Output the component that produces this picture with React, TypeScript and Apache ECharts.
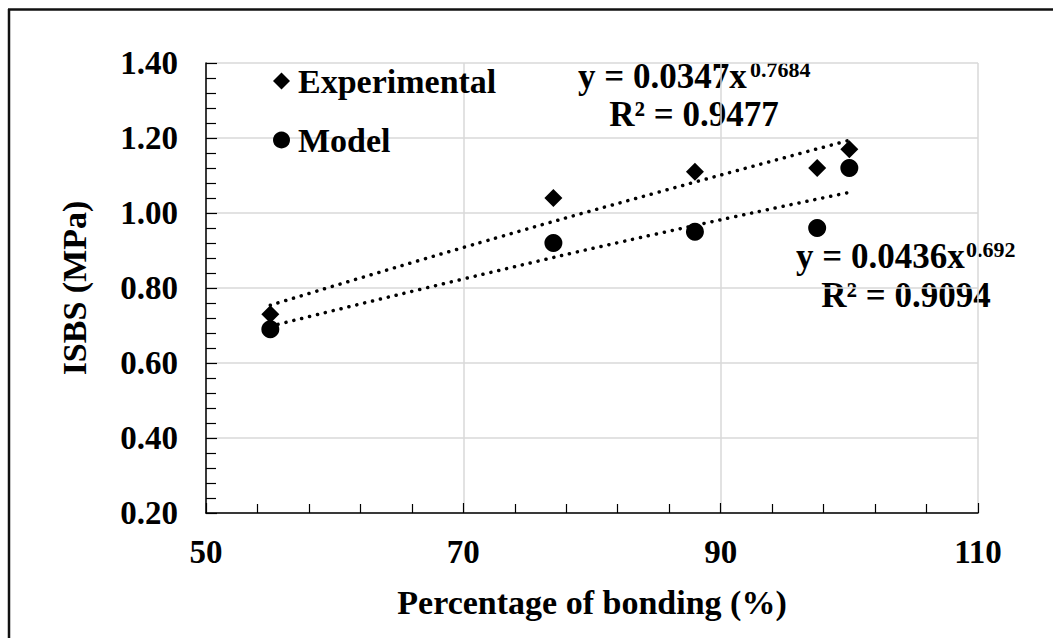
import React, { useEffect, useRef } from "react";
import * as echarts from "echarts";

const xValues = [55, 77, 88, 97.5, 100];
const experimental = [0.73, 1.04, 1.11, 1.12, 1.17];
const model = [0.69, 0.92, 0.95, 0.96, 1.12];
const trendX = [55, 70, 85, 100];
const expTrend = [0.754, 0.908, 1.054, 1.194];
const modelTrend = [0.698, 0.824, 0.944, 1.055];
const expEquation = { main: "y = 0.0347x", exp: "0.7684", r2: "R² = 0.9477" };
const modelEquation = { main: "y = 0.0436x", exp: "0.692", r2: "R² = 0.9094" };

const FONT = "Liberation Serif";

export default function App() {
  const ref = useRef<HTMLDivElement>(null);
  useEffect(() => {
    document.body.style.margin = "0";
    const chart = echarts.init(ref.current!, null, { renderer: "svg" });
    const pair = (xs: number[], ys: number[]) => xs.map((x, i) => [x, ys[i]]);
    const txt = (text: string, x: number, y: number, size: number, align: string) => ({
      type: "text",
      x,
      y,
      style: { text, fontSize: size, fontWeight: "bold", fontFamily: FONT, fill: "#000", align, verticalAlign: "middle" },
    });
    chart.setOption({
      animation: false,
      backgroundColor: "#fff",
      textStyle: { fontFamily: FONT },
      grid: { left: 206, right: 75, top: 63, bottom: 125 },
      xAxis: {
        type: "value",
        min: 50,
        max: 110,
        interval: 20,
        name: "Percentage of bonding (%)",
        nameLocation: "middle",
        nameGap: 72,
        nameTextStyle: { fontSize: 34, fontWeight: "bold", fontFamily: FONT, color: "#000" },
        axisLine: { show: true, lineStyle: { color: "#000", width: 1.5 } },
        axisTick: { show: true, inside: true, length: 10, lineStyle: { color: "#000", width: 1.2 } },
        minorTick: { show: true, splitNumber: 5, length: 9, lineStyle: { color: "#000", width: 1.2 } },
        axisLabel: { fontSize: 33, fontWeight: "bold", fontFamily: FONT, color: "#000", margin: 22 },
        splitLine: { show: true, lineStyle: { color: "#d9d9d9", width: 1.5 } },
      },
      yAxis: {
        type: "value",
        min: 0.2,
        max: 1.4,
        interval: 0.2,
        name: "ISBS (MPa)",
        nameLocation: "middle",
        nameGap: 115,
        nameTextStyle: { fontSize: 34, fontWeight: "bold", fontFamily: FONT, color: "#000" },
        axisLine: { show: true, lineStyle: { color: "#000", width: 1.5 } },
        axisTick: { show: true, inside: true, length: 11, lineStyle: { color: "#000", width: 1.2 } },
        minorTick: { show: true, splitNumber: 5, length: 10, lineStyle: { color: "#000", width: 1.2 } },
        axisLabel: {
          fontSize: 33,
          fontWeight: "bold",
          fontFamily: FONT,
          color: "#000",
          margin: 28,
          formatter: (v: number) => v.toFixed(2),
        },
        splitLine: { show: true, lineStyle: { color: "#d9d9d9", width: 1.5 } },
      },
      legend: {
        data: ["Experimental", "Model"],
        orient: "vertical",
        left: 273,
        top: 64,
        padding: 0,
        itemGap: 25,
        itemWidth: 17,
        itemHeight: 17,
        textStyle: { fontSize: 34, fontWeight: "bold", fontFamily: FONT, color: "#000", padding: [0, 0, 0, 3] },
      },
      series: [
        {
          name: "Experimental",
          type: "scatter",
          symbol: "diamond",
          symbolSize: 18,
          itemStyle: { color: "#000", opacity: 1 },
          data: pair(xValues, experimental),
          z: 5,
        },
        {
          name: "Model",
          type: "scatter",
          symbol: "circle",
          symbolSize: 18,
          itemStyle: { color: "#000", opacity: 1 },
          data: pair(xValues, model),
          z: 5,
        },
        {
          name: "Experimental trend",
          type: "line",
          smooth: true,
          showSymbol: false,
          symbol: "none",
          lineStyle: { color: "#000", width: 3.5, type: [0.1, 8], cap: "round" },
          data: pair(trendX, expTrend),
          z: 3,
        },
        {
          name: "Model trend",
          type: "line",
          smooth: true,
          showSymbol: false,
          symbol: "none",
          lineStyle: { color: "#000", width: 3.5, type: [0.1, 8], cap: "round" },
          data: pair(trendX, modelTrend),
          z: 3,
        },
      ],
      graphic: [
        { type: "line", shape: { x1: 8, y1: 9.5, x2: 1053, y2: 9.5 }, style: { stroke: "#111", lineWidth: 2.5 } },
        { type: "line", shape: { x1: 9, y1: 9, x2: 9, y2: 638 }, style: { stroke: "#111", lineWidth: 2.5 } },
        txt(expEquation.main, 578, 76, 35, "left"),
        txt(expEquation.exp, 750, 69, 22, "left"),
        txt(expEquation.r2, 694, 114, 35, "center"),
        txt(modelEquation.main, 796, 256, 35, "left"),
        txt(modelEquation.exp, 966, 249, 22, "left"),
        txt(modelEquation.r2, 906, 295, 35, "center"),
      ],
    });
    return () => chart.dispose();
  }, []);
  return <div ref={ref} style={{ width: 1053, height: 638 }} />;
}
